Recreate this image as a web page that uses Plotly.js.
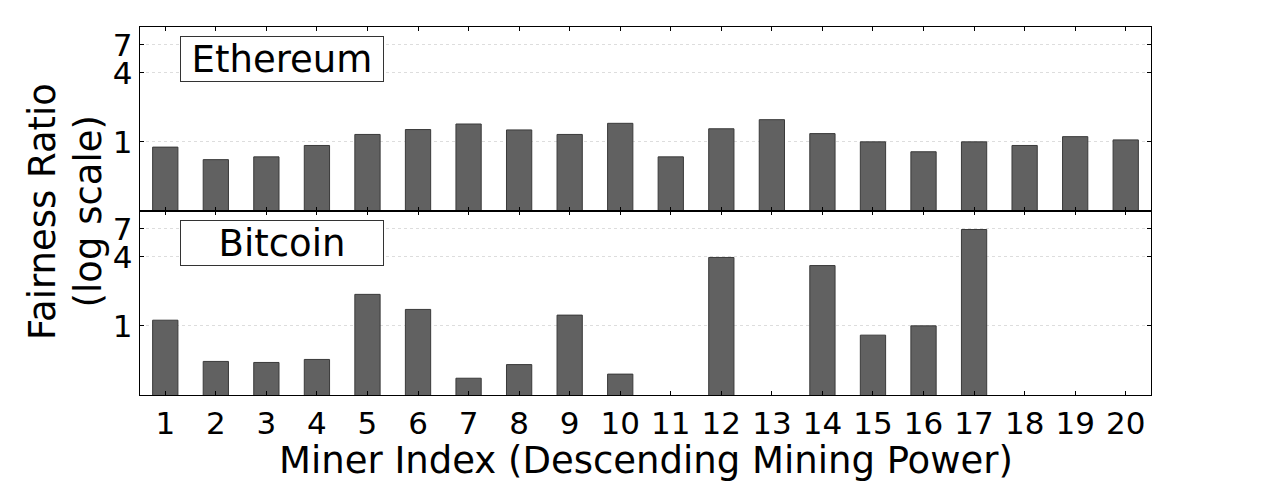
<!DOCTYPE html>
<html>
<head>
<meta charset="utf-8">
<script src="https://cdn.plot.ly/plotly-3.0.1.min.js"></script>
<style>
  html, body { margin: 0; padding: 0; background: #fff; }
  #chart { width: 1280px; height: 492px; }
</style>
</head>
<body>
<div id="chart"></div>
<script>
// ─── Data ────────────────────────────────────────────────────────────────────
const minerIndex = [1, 2, 3, 4, 5, 6, 7, 8, 9, 10, 11, 12, 13, 14, 15, 16, 17, 18, 19, 20];

// Fairness ratio per miner; null = no bar drawn
const ethereumRatio = [0.90, 0.70, 0.74, 0.93, 1.16, 1.28, 1.43, 1.27, 1.16, 1.45,
                       0.74, 1.30, 1.56, 1.18, 1.00, 0.82, 1.00, 0.93, 1.11, 1.04];
const bitcoinRatio  = [1.12, 0.49, 0.48, 0.51, 1.88, 1.39, 0.35, 0.46, 1.24, 0.38,
                       null, 3.94, null, 3.35, 0.83, 1.00, 6.90, null, null, null];

const yTickVals = [1, 4, 7];
const yTickText = ['1', '4', '7'];

// ─── Styling ────────────────────────────────────────────────────────────────
const FONT = 'DejaVu Sans, sans-serif';
const BAR_FILL = '#616161';
const BAR_EDGE = '#3a3a3a';
const TICK_SIZE = 31;

function barTrace(values, xa, ya) {
  return {
    type: 'bar',
    x: minerIndex,
    y: values,
    xaxis: xa,
    yaxis: ya,
    width: 0.5,
    marker: { color: BAR_FILL, line: { color: BAR_EDGE, width: 1 } },
    hoverinfo: 'x+y',
  };
}

const traces = [
  barTrace(ethereumRatio, 'x', 'y'),
  barTrace(bitcoinRatio, 'x2', 'y2'),
];

function yAxis(domain, anchor) {
  return {
    type: 'log',
    domain: domain,
    anchor: anchor,
    range: [Math.log10(0.25), 1],
    tickvals: yTickVals,
    ticktext: yTickText,
    ticks: 'inside',
    ticklen: 4,
    tickcolor: '#000',
    tickfont: { size: TICK_SIZE, family: FONT, color: '#000' },
    showline: true,
    linecolor: '#000',
    linewidth: 1.3,
    mirror: 'ticks',
    showgrid: true,
    gridcolor: '#dddddd',
    griddash: 'dot',
    gridwidth: 1,
    zeroline: false,
    automargin: false,
  };
}

function xAxis(anchor, showLabels) {
  return {
    anchor: anchor,
    range: [0.5, 20.5],
    tickvals: minerIndex,
    ticktext: minerIndex.map(String),
    showticklabels: showLabels,
    ticks: 'inside',
    ticklen: 4,
    tickcolor: '#000',
    tickfont: { size: TICK_SIZE, family: FONT, color: '#000' },
    showline: true,
    linecolor: '#000',
    linewidth: 1.3,
    mirror: 'ticks',
    showgrid: false,
    zeroline: false,
    automargin: false,
  };
}

const labelBox = {
  xanchor: 'left',
  yanchor: 'top',
  showarrow: false,
  font: { size: 37, family: FONT, color: '#000' },
  bgcolor: '#fff',
  bordercolor: '#333',
  borderwidth: 1,
  width: 200,
  height: 42,
  align: 'center',
};

const axisTitle = {
  xref: 'paper', yref: 'paper',
  showarrow: false,
  font: { size: 37, family: FONT, color: '#000' },
};

const layout = {
  width: 1280,
  height: 492,
  paper_bgcolor: '#fff',
  plot_bgcolor: '#fff',
  font: { family: FONT, color: '#000' },
  margin: { l: 140, r: 129, t: 27, b: 97 },
  showlegend: false,
  bargap: 0,
  xaxis: xAxis('y', false),
  yaxis: yAxis([0.5, 1], 'x'),
  xaxis2: xAxis('y2', true),
  yaxis2: yAxis([0, 0.5], 'x2'),
  annotations: [
    Object.assign({}, labelBox, {
      xref: 'x domain', yref: 'y domain', text: 'Ethereum', x: 0.04, y: 0.95,
    }),
    Object.assign({}, labelBox, {
      xref: 'x2 domain', yref: 'y2 domain', text: 'Bitcoin', x: 0.04, y: 0.95,
    }),
    // y title drawn as two rotated lines
    Object.assign({}, axisTitle, {
      text: 'Fairness Ratio', x: -0.097, y: 0.5,
      xanchor: 'center', yanchor: 'middle', textangle: -90,
    }),
    Object.assign({}, axisTitle, {
      text: '(log scale)', x: -0.051, y: 0.5,
      xanchor: 'center', yanchor: 'middle', textangle: -90,
    }),
    Object.assign({}, axisTitle, {
      text: 'Miner Index (Descending Mining Power)', x: 0.5, y: -0.115,
      xanchor: 'center', yanchor: 'top',
    }),
  ],
};

Plotly.newPlot('chart', traces, layout, { displayModeBar: false, staticPlot: true });
</script>
</body>
</html>
